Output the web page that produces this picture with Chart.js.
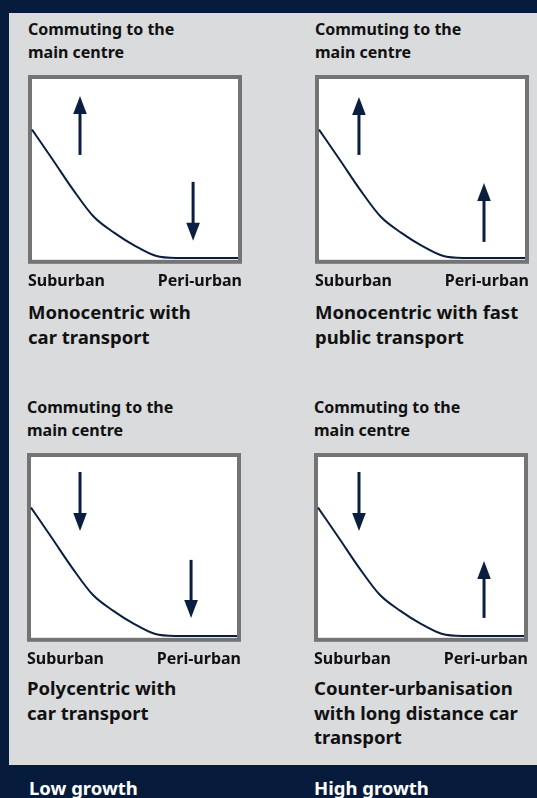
<!DOCTYPE html>
<html>
<head>
<meta charset="utf-8">
<script src="https://cdn.jsdelivr.net/npm/chart.js@4.4.1/dist/chart.umd.min.js"></script>
<style>
body { margin: 0; width: 537px; height: 798px; overflow: hidden; position: relative; background: #061b3c; font-family: "Noto Sans", sans-serif; }
.panel { position: absolute; left: 9px; top: 13px; width: 528px; height: 752px; background: #dadbdd; }
.title { position: absolute; font-weight: bold; font-size: 16px; line-height: 23px; color: #111; white-space: nowrap; }
.caption { position: absolute; font-weight: bold; font-size: 18.5px; line-height: 24.5px; color: #111; white-space: nowrap; }
.growth { position: absolute; font-weight: bold; font-size: 18.5px; line-height: 24.5px; color: #fff; top: 776px; }
canvas { position: absolute; }
</style>
</head>
<body>
<div class="panel"></div>

<div class="title" style="left:28px; top:18px">Commuting to the<br>main centre</div>
<div class="title" style="left:315px; top:18px">Commuting to the<br>main centre</div>
<div class="title" style="left:27px; top:396px">Commuting to the<br>main centre</div>
<div class="title" style="left:314px; top:396px">Commuting to the<br>main centre</div>

<canvas id="c0" width="214" height="218" style="left:28px; top:75px"></canvas>
<canvas id="c1" width="214" height="218" style="left:315px; top:75px"></canvas>
<canvas id="c2" width="214" height="218" style="left:27px; top:453px"></canvas>
<canvas id="c3" width="214" height="218" style="left:314px; top:453px"></canvas>

<div class="caption" style="left:28px; top:300px">Monocentric with<br>car transport</div>
<div class="caption" style="left:315px; top:300px">Monocentric with fast<br>public transport</div>
<div class="caption" style="left:27px; top:676px">Polycentric with<br>car transport</div>
<div class="caption" style="left:314px; top:676px">Counter-urbanisation<br>with long distance car<br>transport</div>

<div class="growth" style="left:29px">Low growth</div>
<div class="growth" style="left:314px">High growth</div>

<script>
// distance from centre (0 = suburban edge, 10 = peri-urban edge) and commuting level
const distance = [0, 1, 2, 3, 4, 5, 6, 7, 8, 9, 10];
const commuting = [7.2, 5.55, 3.87, 2.38, 1.49, 0.77, 0.22, 0.1, 0.1, 0.1, 0.1];
const axisLabels = ['Suburban', 'Peri-urban'];

// arrows per panel: [suburban arrow, peri-urban arrow]
const arrowX = [[2.33, 7.82], [1.94, 8.01], [2.38, 7.77], [1.99, 8.06]];
const arrowTail = [[5.8, 4.31], [5.8, 0.99], [9.17, 4.31], [9.17, 1.1]];
const arrowTip = [[9.06, 1.05], [9.0, 4.25], [5.91, 1.1], [5.91, 4.25]];

const navy = '#0a1f40';
const frame = 4; // grey border thickness

const boxPlugin = {
    id: 'box',
    beforeDatasetsDraw(chart) {
        const ctx = chart.ctx;
        const a = chart.chartArea;
        const x = chart.scales.x, y = chart.scales.y;
        ctx.save();
        ctx.fillStyle = '#747474';
        ctx.fillRect(a.left, a.top, a.width, a.height);
        const l = x.getPixelForValue(0), r = x.getPixelForValue(10);
        const t = y.getPixelForValue(10), b = y.getPixelForValue(0);
        ctx.fillStyle = '#ffffff';
        ctx.fillRect(l, t, r - l, b - t);
        ctx.restore();
    }
};

const arrowPlugin = {
    id: 'arrows',
    afterDatasetsDraw(chart, args, opts) {
        const ctx = chart.ctx;
        const x = chart.scales.x, y = chart.scales.y;
        ctx.save();
        ctx.strokeStyle = navy;
        ctx.fillStyle = navy;
        ctx.lineWidth = 3;
        for (let i = 0; i < opts.xs.length; i++) {
            const px = x.getPixelForValue(opts.xs[i]);
            const y0 = y.getPixelForValue(opts.tails[i]);
            const y1 = y.getPixelForValue(opts.tips[i]);
            const dir = y1 < y0 ? -1 : 1;
            const head = 18;
            ctx.beginPath();
            ctx.moveTo(px, y0);
            ctx.lineTo(px, y1 - dir * (head - 2));
            ctx.stroke();
            ctx.beginPath();
            ctx.moveTo(px, y1);
            ctx.lineTo(px - 6.8, y1 - dir * head);
            ctx.lineTo(px + 6.8, y1 - dir * head);
            ctx.closePath();
            ctx.fill();
        }
        ctx.restore();
    }
};

const makeChart = (id, n) => {
    const canvas = document.getElementById(id);
    const boxW = 214, boxH = 189;
    const xPad = frame * 10 / (boxW - 2 * frame);
    const yPad = frame * 10 / (boxH - 2 * frame);
    return new Chart(canvas.getContext('2d'), {
        type: 'line',
        data: {
            datasets: [{
                data: distance.map((d, i) => ({ x: d, y: commuting[i] })),
                borderColor: navy,
                borderWidth: 2,
                pointRadius: 0,
                cubicInterpolationMode: 'monotone',
                fill: false
            }]
        },
        options: {
            responsive: false,
            animation: false,
            devicePixelRatio: 1,
            layout: { padding: { left: 0, right: 0, top: 0, bottom: 2 } },
            plugins: {
                legend: { display: false },
                tooltip: { enabled: false },
                arrows: { xs: arrowX[n], tails: arrowTail[n], tips: arrowTip[n] }
            },
            scales: {
                x: {
                    type: 'linear',
                    min: -xPad,
                    max: 10 + xPad,
                    grid: { display: true, drawOnChartArea: false, drawTicks: true, tickLength: 8, color: 'rgba(0,0,0,0)' },
                    border: { display: false },
                    afterBuildTicks: s => { s.ticks = [{ value: s.min }, { value: s.max }]; },
                    ticks: {
                        align: 'inner',
                        padding: 0,
                        color: '#111',
                        font: { family: 'Noto Sans', size: 16, weight: 'bold' },
                        callback: (v, i) => axisLabels[i]
                    }
                },
                y: {
                    display: false,
                    min: -yPad,
                    max: 10 + yPad
                }
            }
        },
        plugins: [boxPlugin, arrowPlugin]
    });
};

makeChart('c0', 0);
makeChart('c1', 1);
makeChart('c2', 2);
makeChart('c3', 3);
</script>
</body>
</html>
